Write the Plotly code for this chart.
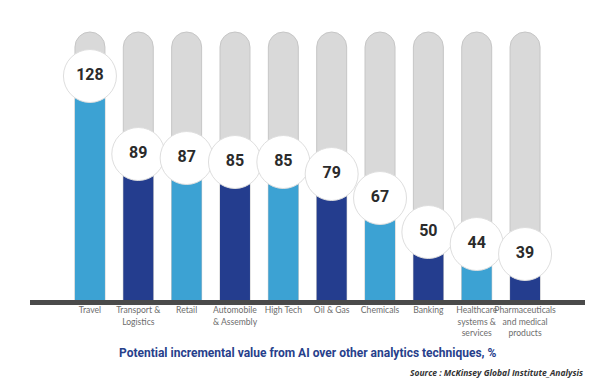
import plotly.graph_objects as go

categories = ["Travel", "Transport & Logistics", "Retail", "Automobile & Assembly", "High Tech",
              "Oil & Gas", "Chemicals", "Banking", "Healthcare systems & services",
              "Pharmaceuticals and medical products"]
tick_labels = ["Travel", "Transport &<br>Logistics", "Retail", "Automobile<br>& Assembly", "High Tech",
               "Oil & Gas", "Chemicals", "Banking", "Healthcare<br>systems &<br>services",
               "Pharmaceuticals<br>and medical<br>products"]
values = [128, 89, 87, 85, 85, 79, 67, 50, 44, 39]
track_max = 150

LIGHT = "#3CA2D3"
DARK = "#243D8E"
bar_colors = [LIGHT if i % 2 == 0 else DARK for i in range(len(values))]

fig = go.Figure()
fig.add_trace(go.Bar(
    x=categories, y=[track_max] * len(categories), width=0.62,
    marker=dict(color="#d9d9d9", line=dict(color="#c6c6c6", width=1), cornerradius=15),
    hoverinfo="skip", showlegend=False))
fig.add_trace(go.Bar(
    x=categories, y=values, width=0.62,
    marker=dict(color=bar_colors, line=dict(width=0)),
    showlegend=False))
fig.add_trace(go.Scatter(
    x=categories, y=values, mode="markers+text",
    marker=dict(size=53, color="white", line=dict(color="#dedede", width=1)),
    text=[str(v) for v in values], textposition="middle center",
    textfont=dict(family="Roboto", size=16, color="#2b2b2b", weight="bold"),
    cliponaxis=False, showlegend=False))

fig.update_layout(
    width=600, height=391, barmode="overlay",
    margin=dict(l=22, r=23, t=14, b=99),
    paper_bgcolor="white", plot_bgcolor="white",
    xaxis=dict(type="category", range=[-1.24, 10.24], tickvals=categories, ticktext=tick_labels,
               tickangle=0, automargin=False, ticklabelstandoff=-2,
               showline=True, linewidth=5, linecolor="#4a4a4a", ticks="", showgrid=False,
               zeroline=False, tickfont=dict(family="Lato", size=8.6, color="#6d6d6d")),
    yaxis=dict(range=[16, 155], visible=False),
    annotations=[
        dict(text="Potential incremental value from AI over other analytics techniques, %",
             xref="paper", yref="paper", x=0.5, y=-0.19, xanchor="center", yanchor="middle",
             showarrow=False, font=dict(family="Roboto", size=12, color="#27408b", weight="bold")),
        dict(text="<b><i>Source : McKinsey Global Institute_Analysis</i></b>",
             xref="paper", yref="paper", x=1.0, y=-0.262, xanchor="right", yanchor="middle",
             showarrow=False, font=dict(family="Open Sans", size=8.5, color="#333333")),
    ],
)
fig.write_html("out.html")
